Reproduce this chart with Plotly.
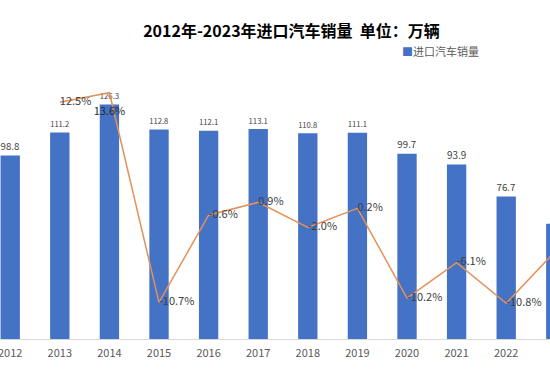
import plotly.graph_objects as go

years = ["2012", "2013", "2014", "2015", "2016", "2017", "2018", "2019", "2020", "2021", "2022", "2023"]
sales = [98.8, 111.2, 126.3, 112.8, 112.1, 113.1, 110.8, 111.1, 99.7, 93.9, 76.7, 62.1]
growth_years = ["2013", "2014", "2015", "2016", "2017", "2018", "2019", "2020", "2021", "2022", "2023"]
growth = [12.5, 13.6, -10.7, -0.6, 0.9, -2.0, 0.2, -10.2, -6.1, -10.8, -4.7]
growth_labels = ["12.5%", "13.6%", "-10.7%", "-0.6%", "0.9%", "-2.0%", "0.2%", "-10.2%", "-6.1%", "-10.8%", ""]

FONT = "Noto Sans CJK SC, Noto Sans, sans-serif"

fig = go.Figure()
fig.add_trace(go.Bar(
    x=years, y=sales, name="进口汽车销量",
    marker=dict(color="#4472C4", line=dict(width=0)),
    text=[f"{v:.1f}" for v in sales], textposition="outside",
    textfont=dict(size=10, color="#404040", family=FONT),
    cliponaxis=False, showlegend=False,
))
# 2014 label is drawn separately (below the peak, inside the bar top)
line_text = [t if i != 1 else "" for i, t in enumerate(growth_labels)]
fig.add_trace(go.Scatter(
    x=growth_years, y=growth, yaxis="y2", mode="lines+text",
    line=dict(color="#E39159", width=1.5),
    text=line_text, textposition="middle right",
    textfont=dict(size=11, color="#404040", family=FONT),
    showlegend=False, cliponaxis=False,
))
fig.add_trace(go.Scatter(
    x=[growth_years[1]], y=[growth[1]], yaxis="y2", mode="text",
    text=["<br>" + growth_labels[1]], textposition="bottom center",
    textfont=dict(size=11, color="#2B2B2B", family=FONT),
    showlegend=False, cliponaxis=False, hoverinfo="skip",
))

fig.add_annotation(
    xref="paper", yref="paper", x=0.727, y=1.032, xanchor="left", yanchor="middle",
    text="<span style='color:#4472C4'>■</span>进口汽车销量", showarrow=False,
    font=dict(size=11, color="#595959", family=FONT),
)

fig.update_layout(
    width=550, height=378,
    margin=dict(l=0, r=0, t=60, b=39, autoexpand=False),
    paper_bgcolor="white", plot_bgcolor="white",
    font=dict(family=FONT, color="#595959"),
    bargap=0.61,
    title=dict(text="<b>2012年-2023年进口汽车销量  单位：万辆</b>", x=0.53, xanchor="center",
               y=1 - 31.7 / 378, yanchor="middle", font=dict(size=16, color="#000000", family=FONT)),
    showlegend=False,
    xaxis=dict(type="category", range=[-0.206, 10.883], showline=True, linecolor="#D9D9D9",
               ticks="", tickfont=dict(size=11, color="#595959", family=FONT), showgrid=False,
               automargin=False, ticklabelstandoff=4),
    yaxis=dict(range=[0, 150.2], visible=False, showgrid=False, zeroline=False, automargin=False),
    yaxis2=dict(range=[-14.94, 17.39], overlaying="y", side="right", visible=False,
                showgrid=False, zeroline=False, automargin=False),
)

fig.write_html("out.html", config={"displayModeBar": False},
               post_script="document.body.style.margin='0';document.body.style.overflow='hidden';")
